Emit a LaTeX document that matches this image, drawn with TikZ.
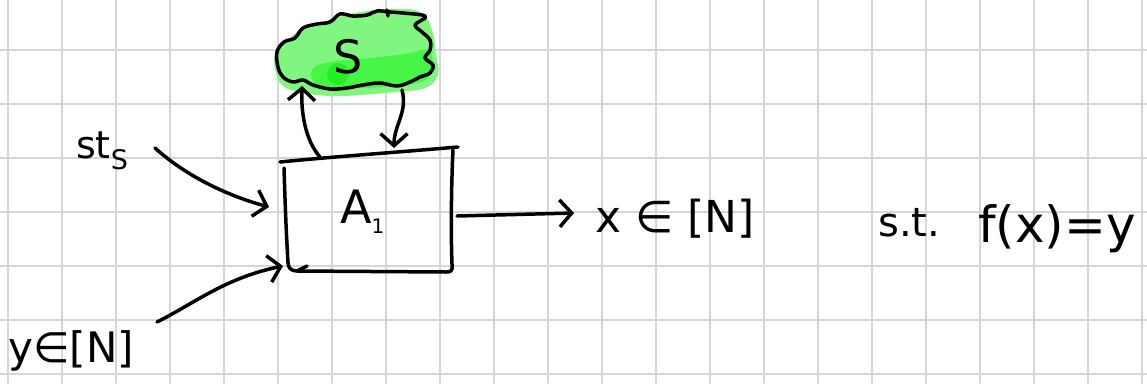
\documentclass[tikz,border=0pt]{standalone}
\usepackage{fontspec}
\setmainfont{DejaVu Sans}
\usetikzlibrary{arrows.meta}
\definecolor{gridc}{RGB}{214,214,214}
\definecolor{lightg}{RGB}{128,245,128}
\definecolor{midg}{RGB}{70,245,70}
\definecolor{darkg}{RGB}{35,238,35}
\begin{document}
\begin{tikzpicture}[x=1pt,y=-1pt,line cap=round,line join=round,
  gridline/.style={draw=gridc,line width=1.8pt},
  pen/.style={line width=3.5pt,draw=black},
  arr/.style={pen,-{Straight Barb[length=12pt,width=27pt]}},
  lbl/.style={inner sep=0pt,anchor=base west}]
\useasboundingbox (0,0) rectangle (1147,383);
\fill[white] (0,0) rectangle (1147,383);
% grid
\foreach \gx in {8,62,...,1142} \draw[gridline] (\gx,0) -- (\gx,383);
\foreach \gy in {50,104,...,374} \draw[gridline] (0,\gy) -- (1147,\gy);
% green highlight of the cloud
\fill[lightg] plot[smooth cycle,tension=0.7] coordinates {
 (276,52) (290,38) (305,27) (330,20) (355,13) (390,9) (420,12) (432,30)
 (436,55) (438,75) (425,88) (395,92) (360,95) (330,96) (300,92) (282,85) (275,68)};
\fill[midg] plot[smooth cycle,tension=0.7] coordinates {
 (312,70) (330,62) (370,58) (405,54) (428,50) (432,65) (425,80) (395,86) (350,88) (318,85)};
\fill[darkg] (338,74) circle (11pt);
% cloud outline
\draw[pen] plot[smooth cycle,tension=0.6] coordinates {
 (277,52) (284,42) (295,38) (303,28) (317,24) (330,22) (340,14) (353,16)
 (367,15) (377,11) (390,12) (403,13) (422,15) (425,18) (415,25) (422,32)
 (430,40) (430,50) (425,58) (433,65) (430,73) (420,77) (410,82) (397,86)
 (380,83) (363,85) (347,88) (330,89) (313,85) (303,80) (293,82) (283,77) (278,67)};
\draw[pen] (387,10) -- (388,16);
\node[lbl,font=\fontsize{46}{50}\selectfont] (cloud) at (333,73) {S};
% box
\node[minimum width=170pt,minimum height=120pt,inner sep=0pt] (box) at (369,211) {};
\coordinate (tl) at (280,162);
\coordinate (tr) at (458,147);
\draw[pen] (tl) .. controls (330,157) and (400,152) .. (tr);
\draw[pen] (453,150) .. controls (451,190) and (451,240) .. (452,264)
  .. controls (453,271) and (451,272) .. (446,272) -- (297,271)
  .. controls (291,271) and (288,268) .. (288,262)
  .. controls (286,230) and (285,200) .. (284,168);
\draw[pen] (297,271) -- (307,266);
\node[lbl,font=\fontsize{46}{50}\selectfont] (A) at (340,223) {A\raisebox{-0.22em}{\fontsize{20}{22}\selectfont 1}};
% labels
\node[lbl,font=\fontsize{38}{44}\selectfont] (sts) at (76,158) {st\raisebox{-0.3em}{\fontsize{27}{30}\selectfont S}};
\node[lbl,font=\fontsize{42}{48}\selectfont] (yN) at (8,362) {y∈[N]};
\node[lbl,font=\fontsize{44}{50}\selectfont] (xN) at (595,232) {x ∈ [N]};
\node[lbl,font=\fontsize{40}{46}\selectfont] (st) at (878,236) {s.t.};
\node[lbl,font=\fontsize{50}{56}\selectfont] (fxy) at (978,242) {f(x)=y};
% connector end points
\coordinate (s1) at (155,148);
\coordinate (s2) at (269,207);
\coordinate (y1) at (157,322);
\coordinate (y2) at (283,266);
\coordinate (o1) at (457,216);
\coordinate (o2) at (574,213);
\coordinate (u1) at (320,157);
\coordinate (u2) at (302,86);
\coordinate (d1) at (402,90);
\coordinate (d2) at (394,148);
% connectors
\draw[arr] (s1) .. controls (185,175) and (225,195) .. (s2);
\draw[arr] (y1) .. controls (195,303) and (225,278) .. (y2);
\draw[arr] (o1) -- (o2);
\draw[arr] (u1) .. controls (305,140) and (301,112) .. (u2);
\draw[arr] (d1) .. controls (408,112) and (394,125) .. (d2);
\end{tikzpicture}
\end{document}
